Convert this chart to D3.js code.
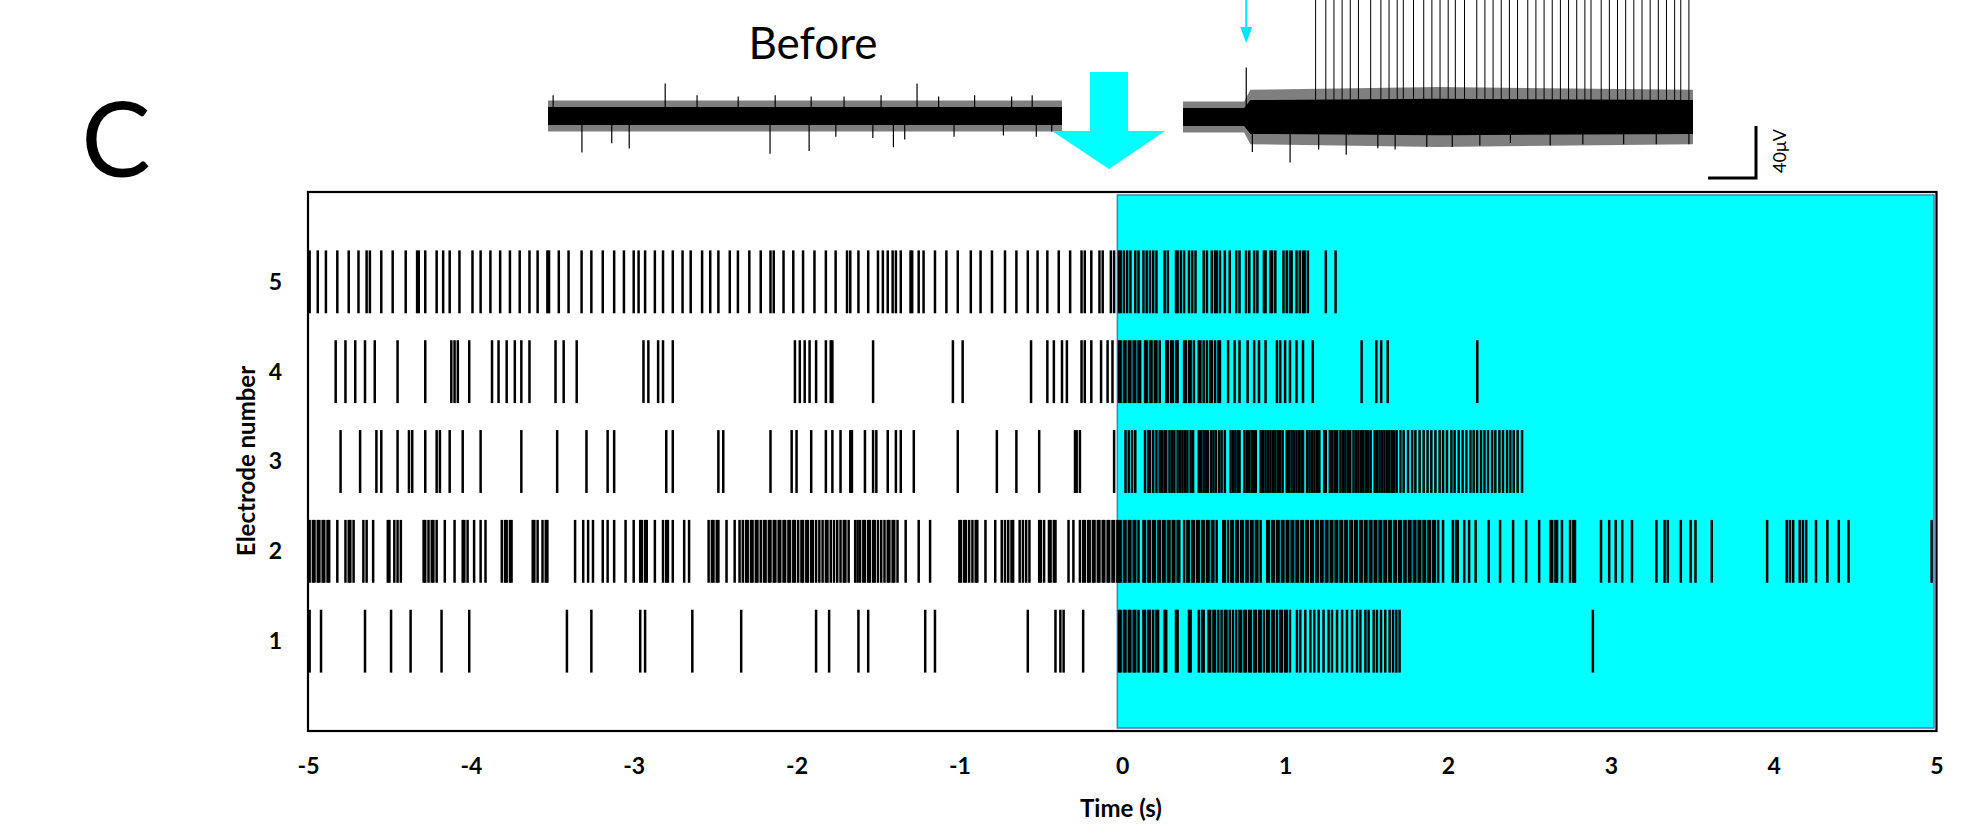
<!DOCTYPE html>
<html>
  <head>
    <meta charset="utf-8">
    <title>Electrode raster</title>
    <style>
      body {
        margin: 0;
        background-color: white;
      }
      svg {
        display: block;
        font-family: Lato, "Liberation Sans", sans-serif;
      }
    </style>
  </head>
  <body>
    <div id="chart"></div>

    <script src="https://d3js.org/d3.v7.min.js"></script>
    <script>
      var width = 1978;
      var height = 827;

      // raster data: spike times (s) per electrode, stimulation starts at 0
      var electrodes = [1, 2, 3, 4, 5];
      var xTicks = [-5, -4, -3, -2, -1, 0, 1, 2, 3, 4, 5];
      var stimWindow = [-0.03, 4.985];

      var spikesE5 = [-4.99, -4.94, -4.89, -4.82, -4.75, -4.69, -4.64, -4.62, -4.55, -4.48, -4.40, -4.33, -4.32, -4.28,
        -4.21, -4.17, -4.13, -4.07, -3.99, -3.94, -3.88, -3.82, -3.76, -3.70, -3.64, -3.59, -3.53, -3.52, -3.46, -3.40,
        -3.32, -3.26, -3.19, -3.12, -3.06, -3.00, -2.97, -2.93, -2.87, -2.82, -2.76, -2.70, -2.65, -2.58, -2.53, -2.48,
        -2.41, -2.36, -2.29, -2.22, -2.16, -2.14, -2.08, -2.02, -1.96, -1.89, -1.82, -1.76, -1.69, -1.67, -1.62, -1.56,
        -1.50, -1.47, -1.44, -1.41, -1.39, -1.36, -1.30, -1.29, -1.25, -1.22, -1.15, -1.08, -1.01, -0.93, -0.87, -0.80,
        -0.72, -0.65, -0.58, -0.52, -0.46, -0.39, -0.32, -0.25, -0.23, -0.19, -0.14, -0.12, -0.07, -0.05,
        -0.02, -0.01, 0.01, 0.03, 0.05, 0.08, 0.10, 0.13, 0.15, 0.17, 0.19, 0.21, 0.26, 0.28, 0.33, 0.34, 0.36, 0.38,
        0.41, 0.43, 0.45, 0.50, 0.52, 0.55, 0.57, 0.58, 0.60, 0.63, 0.66, 0.70, 0.72, 0.76, 0.78, 0.81, 0.83, 0.87,
        0.88, 0.91, 0.92, 0.94, 0.99, 1.01, 1.03, 1.04, 1.07, 1.09, 1.11, 1.12, 1.14, 1.25, 1.31];

      var spikesE4 = [-4.83, -4.77, -4.71, -4.65, -4.59, -4.45, -4.28, -4.12, -4.10, -4.08, -4.01, -3.87, -3.83, -3.78,
        -3.73, -3.69, -3.64, -3.48, -3.43, -3.35, -2.94, -2.91, -2.85, -2.82, -2.76, -2.01, -1.98, -1.95, -1.92, -1.88,
        -1.82, -1.79, -1.78, -1.53, -1.04, -0.98, -0.56, -0.46, -0.42, -0.37, -0.34, -0.25, -0.23, -0.19, -0.13, -0.09,
        -0.06, -0.02, -0.01, 0.01, 0.02, 0.04, 0.05, 0.07, 0.08, 0.10, 0.11, 0.14, 0.15, 0.17, 0.18, 0.20, 0.21, 0.23,
        0.27, 0.28, 0.30, 0.31, 0.33, 0.34, 0.38, 0.39, 0.41, 0.42, 0.44, 0.47, 0.48, 0.50, 0.52, 0.54, 0.55, 0.57,
        0.59, 0.60, 0.65, 0.69, 0.72, 0.77, 0.81, 0.84, 0.88, 0.95, 0.97, 1.00, 1.03, 1.07, 1.11, 1.17, 1.47, 1.56,
        1.59, 1.63, 2.18];

      var spikesE3 = [-4.80, -4.68, -4.58, -4.55, -4.45, -4.38, -4.36, -4.28, -4.21, -4.19, -4.13, -4.05, -3.94, -3.69,
        -3.47, -3.29, -3.16, -3.12, -2.80, -2.76, -2.48, -2.45, -2.16, -2.03, -2.00, -1.91, -1.82, -1.78, -1.73, -1.67,
        -1.66, -1.58, -1.53, -1.51, -1.44, -1.39, -1.36, -1.28, -1.01, -0.77, -0.65, -0.51, -0.29, -0.28, -0.26, -0.05,
        0.02, 0.04, 0.06, 0.08, 0.14, 0.16, 0.17, 0.19, 0.21, 0.23, 0.245, 0.26, 0.27, 0.29, 0.305, 0.32, 0.34, 0.355,
        0.37, 0.385, 0.40, 0.42, 0.435, 0.47, 0.485, 0.50, 0.515, 0.525, 0.545, 0.56, 0.575, 0.595, 0.61, 0.63, 0.665,
        0.68, 0.695, 0.71, 0.72, 0.75, 0.765, 0.78, 0.795, 0.81, 0.82, 0.85, 0.865, 0.88, 0.895, 0.91, 0.925, 0.94,
        0.955, 0.97, 0.985, 1.01, 1.025, 1.04, 1.055, 1.07, 1.085, 1.10, 1.11, 1.135, 1.15, 1.165, 1.18, 1.195, 1.21,
        1.24, 1.25, 1.275, 1.29, 1.305, 1.32, 1.34, 1.355, 1.37, 1.385, 1.40, 1.42, 1.435, 1.45, 1.465, 1.48, 1.495,
        1.51, 1.525, 1.55, 1.565, 1.58, 1.595, 1.61, 1.625, 1.64, 1.655, 1.67, 1.685, 1.708, 1.728, 1.755, 1.78, 1.80,
        1.826, 1.851, 1.875, 1.898, 1.923, 1.949, 1.97, 1.994, 2.021, 2.041, 2.066, 2.09, 2.113, 2.138, 2.158, 2.179,
        2.203, 2.224, 2.246, 2.271, 2.291, 2.316, 2.338, 2.363, 2.383, 2.404, 2.428, 2.455];

      var spikesE2 = [-4.99, -4.97, -4.96, -4.94, -4.93, -4.91, -4.90, -4.88, -4.87, -4.82, -4.77, -4.75, -4.74, -4.72,
        -4.66, -4.64, -4.60, -4.51, -4.50, -4.47, -4.45, -4.43, -4.29, -4.28, -4.26, -4.24, -4.23, -4.21, -4.16, -4.10,
        -4.05, -4.04, -4.02, -3.98, -3.94, -3.91, -3.81, -3.79, -3.78, -3.76, -3.75, -3.62, -3.61, -3.59, -3.56, -3.54,
        -3.53, -3.36, -3.31, -3.28, -3.25, -3.19, -3.16, -3.12, -3.05, -3.00, -2.96, -2.95, -2.93, -2.92, -2.87, -2.82,
        -2.80, -2.79, -2.76, -2.69, -2.66, -2.54, -2.52, -2.51, -2.49, -2.48, -2.43, -2.38, -2.35, -2.33, -2.31, -2.30,
        -2.28, -2.27, -2.25, -2.24, -2.22, -2.20, -2.19, -2.17, -2.16, -2.14, -2.13, -2.11, -2.10, -2.08, -2.07, -2.05,
        -2.04, -2.02, -2.01, -1.99, -1.97, -1.96, -1.94, -1.93, -1.91, -1.90, -1.88, -1.86, -1.84, -1.82, -1.81, -1.79,
        -1.77, -1.75, -1.73, -1.71, -1.70, -1.68, -1.64, -1.625, -1.61, -1.59, -1.58, -1.56, -1.55, -1.53, -1.52, -1.50,
        -1.48, -1.46, -1.44, -1.43, -1.41, -1.40, -1.38, -1.33, -1.25, -1.18, -1.00, -0.99, -0.97, -0.96, -0.94, -0.92,
        -0.90, -0.89, -0.84, -0.78, -0.74, -0.72, -0.70, -0.68, -0.67, -0.63, -0.61, -0.59, -0.57, -0.51, -0.50, -0.48,
        -0.45, -0.44, -0.42, -0.41, -0.33, -0.30, -0.26, -0.24, -0.23, -0.21, -0.20, -0.18, -0.17, -0.15, -0.14, -0.12,
        -0.11, -0.09, -0.08, -0.06, -0.05, -0.03,
        -0.02, -0.01, 0.01, 0.02, 0.04, 0.05, 0.07, 0.08, 0.10, 0.13, 0.14, 0.16, 0.17, 0.19, 0.20, 0.22, 0.23, 0.25,
        0.26, 0.28, 0.29, 0.31, 0.32, 0.34, 0.35, 0.38, 0.40, 0.41, 0.43, 0.44, 0.46, 0.47, 0.49, 0.50, 0.52, 0.53,
        0.55, 0.56, 0.58, 0.62, 0.63, 0.65, 0.67, 0.68, 0.70, 0.71, 0.73, 0.74, 0.76, 0.77, 0.79, 0.80, 0.82, 0.83,
        0.85, 0.89, 0.90, 0.92, 0.93, 0.95, 0.96, 0.98, 0.99, 1.01, 1.02, 1.04, 1.05, 1.07, 1.08, 1.10, 1.11, 1.13,
        1.14, 1.16, 1.17, 1.19, 1.20, 1.22, 1.23, 1.25, 1.26, 1.28, 1.29, 1.31, 1.32, 1.34, 1.35, 1.37, 1.38, 1.40,
        1.41, 1.43, 1.44, 1.46, 1.47, 1.49, 1.50, 1.52, 1.53, 1.55, 1.56, 1.58, 1.59, 1.61, 1.62, 1.64, 1.65, 1.67,
        1.68, 1.70, 1.71, 1.73, 1.74, 1.76, 1.77, 1.79, 1.80, 1.82, 1.83, 1.85, 1.86, 1.88, 1.89, 1.91, 1.92, 1.94,
        1.97, 2.03, 2.05, 2.06, 2.10, 2.13, 2.17, 2.25, 2.32, 2.40, 2.48, 2.56, 2.63, 2.64, 2.66, 2.67, 2.70, 2.75,
        2.77, 2.78, 2.94, 2.99, 3.03, 3.07, 3.13, 3.28, 3.33, 3.35, 3.43, 3.49, 3.52, 3.62, 3.96, 4.08, 4.10, 4.12,
        4.16, 4.18, 4.20, 4.26, 4.33, 4.40, 4.46, 4.97];

      var spikesE1 = [-4.99, -4.92, -4.65, -4.49, -4.37, -4.18, -4.01, -3.41, -3.26, -2.96, -2.93, -2.64, -2.34, -1.88,
        -1.80, -1.62, -1.56, -1.21, -1.15, -0.58, -0.41, -0.38, -0.36, -0.24,
        -0.02, -0.01, 0.01, 0.02, 0.04, 0.05, 0.07, 0.08, 0.10, 0.13, 0.14, 0.16, 0.17, 0.19, 0.21, 0.22, 0.26, 0.27,
        0.33, 0.34, 0.41, 0.42, 0.47, 0.49, 0.50, 0.53, 0.54, 0.56, 0.57, 0.59, 0.61, 0.63, 0.64, 0.66, 0.68, 0.70,
        0.72, 0.73, 0.75, 0.76, 0.78, 0.79, 0.81, 0.82, 0.84, 0.85, 0.87, 0.89, 0.90, 0.92, 0.93, 0.95, 0.97, 0.98,
        1.00, 1.01, 1.03, 1.073, 1.093, 1.124, 1.155, 1.179, 1.206, 1.236, 1.267, 1.288, 1.319, 1.35, 1.38, 1.411,
        1.442, 1.462, 1.493, 1.513, 1.544, 1.564, 1.589, 1.615, 1.642, 1.663, 1.683, 1.703, 2.89];

      var spikeTrains = [spikesE1, spikesE2, spikesE3, spikesE4, spikesE5];

      // example recordings above the raster (time in s, amplitude in µV)
      var beforeEnvT = [0, 5];
      var beforeCore = [7, 7];
      var beforeEdge = [12, 12];
      var beforeSpikeT = [0.05, 0.33, 0.62, 0.79, 1.14, 1.45, 1.85, 2.16, 2.21, 2.54, 2.56, 2.80, 2.88, 3.16, 3.24,
        3.36, 3.47, 3.59, 3.80, 3.95, 4.15, 4.43, 4.51, 4.71, 4.75, 4.90];
      var beforeSpikeAmp = [16, -28, -21, -25, 25, 16, 15, -29, 16, -27, 15, -16, 15, -17, 16,
        -24, -18, 25, 15, -16, 16, -15, 15, 16, -16, -12];

      var afterEnvT = [0, 0.6, 0.66, 2.5, 5];
      var afterCore = [7, 7, 13, 14, 13];
      var afterEdge = [12, 12, 21, 23, 21];
      var afterSpikeT = [0.62, 0.68, 1.05, 1.33, 1.60, 1.91, 2.08, 2.39, 2.64, 2.91, 3.21, 3.60, 3.92, 4.32, 4.64, 4.96];
      var afterSpikeAmp = [38, -27, -35, -25, -29, -24, -25, -23, -23, -22, -20, -22, -21, -21, -21, -21];
      var afterUnitT = [1.30, 1.40, 1.48, 1.56, 1.64, 1.72, 1.84, 1.94, 2.02, 2.10, 2.16, 2.26, 2.36, 2.44, 2.52,
        2.60, 2.67, 2.76, 2.88, 2.96, 3.04, 3.12, 3.20, 3.28, 3.38, 3.46, 3.54, 3.62, 3.70, 3.78, 3.86, 3.94, 4.00,
        4.10, 4.18, 4.26, 4.34, 4.42, 4.50, 4.58, 4.66, 4.74, 4.82, 4.88, 4.96];
      var afterUnitAmp = 130;
      var stimMarkT = 0.62;
      var scaleBarUV = 40;
      var scaleBarS = 0.47;

      var svg = d3.select("#chart").append("svg")
        .attr("width", width)
        .attr("height", height);

      var x = d3.scaleLinear().domain([-5, 5]).range([308, 1936.5]);
      var y = d3.scaleLinear().domain([0, 6]).range([731, 192]);

      // plot area
      svg.append("rect")
        .attr("x", x(-5)).attr("y", y(6))
        .attr("width", x(5) - x(-5)).attr("height", y(0) - y(6))
        .attr("fill", "white");

      svg.append("rect")
        .attr("x", x(stimWindow[0])).attr("y", y(6) + 3)
        .attr("width", x(stimWindow[1]) - x(stimWindow[0])).attr("height", y(0) - y(6) - 6)
        .attr("fill", "#00ffff")
        .attr("stroke", "#4b7fae")
        .attr("stroke-width", 1.5);

      var rows = svg.append("g").selectAll("g")
        .data(spikeTrains)
        .enter().append("g");

      rows.selectAll("line")
        .data(function(d, i) {
          return d.map(function(t) { return {t: t, e: electrodes[i]}; });
        })
        .enter().append("line")
        .attr("x1", function(d) { return x(d.t); })
        .attr("x2", function(d) { return x(d.t); })
        .attr("y1", function(d) { return y(d.e + 0.35); })
        .attr("y2", function(d) { return y(d.e - 0.35); })
        .attr("stroke", "black")
        .attr("stroke-width", 2.5);

      svg.append("rect")
        .attr("x", x(-5)).attr("y", y(6))
        .attr("width", x(5) - x(-5)).attr("height", y(0) - y(6))
        .attr("fill", "none")
        .attr("stroke", "black")
        .attr("stroke-width", 2.2);

      // axes
      var xAxis = svg.append("g")
        .attr("transform", "translate(0," + y(0) + ")")
        .call(d3.axisBottom(x).tickValues(xTicks).tickSize(0).tickPadding(27)
          .tickFormat(function(d) { return String(d); }));
      xAxis.select(".domain").remove();
      xAxis.selectAll("text")
        .attr("font-family", "Lato, sans-serif")
        .attr("font-weight", "bold")
        .attr("font-size", 23)
        .attr("fill", "black");

      var yAxis = svg.append("g")
        .attr("transform", "translate(" + x(-5) + ",0)")
        .call(d3.axisLeft(y).tickValues(electrodes).tickSize(0).tickPadding(26)
          .tickFormat(function(d) { return String(d); }));
      yAxis.select(".domain").remove();
      yAxis.selectAll("text")
        .attr("font-family", "Lato, sans-serif")
        .attr("font-weight", "bold")
        .attr("font-size", 23)
        .attr("fill", "black");

      svg.append("text")
        .attr("x", 1121).attr("y", 817)
        .attr("text-anchor", "middle")
        .attr("font-weight", "bold")
        .attr("font-size", 24)
        .text("Time (s)");

      svg.append("text")
        .attr("transform", "translate(255,461) rotate(-90)")
        .attr("text-anchor", "middle")
        .attr("font-weight", "bold")
        .attr("font-size", 24)
        .text("Electrode number");

      // panel letter and trace title
      svg.append("text")
        .attr("x", 116).attr("y", 177)
        .attr("text-anchor", "middle")
        .attr("font-size", 104)
        .text("C");

      svg.append("text")
        .attr("x", 813).attr("y", 59)
        .attr("text-anchor", "middle")
        .attr("font-size", 44)
        .text("Before");

      // recordings
      var amp = d3.scaleLinear().domain([-40, 40]).range([52, -52]);
      var beforeX = d3.scaleLinear().domain([0, 5]).range([548, 1062]);
      var afterX = d3.scaleLinear().domain([0, 5]).range([1183, 1693]);

      function drawTrace(g, tx, base, envT, core, edge, spT, spA) {
        var env = envT.map(function(t, i) { return {t: t, c: core[i], e: edge[i]}; });
        g.append("path")
          .datum(env)
          .attr("d", d3.area()
            .x(function(d) { return tx(d.t); })
            .y0(function(d) { return base + amp(-d.e); })
            .y1(function(d) { return base + amp(d.e); }))
          .attr("fill", "black")
          .attr("opacity", 0.5);
        g.append("path")
          .datum(env)
          .attr("d", d3.area()
            .x(function(d) { return tx(d.t); })
            .y0(function(d) { return base + amp(-d.c); })
            .y1(function(d) { return base + amp(d.c); }))
          .attr("fill", "black");
        g.selectAll("line.sp")
          .data(spT)
          .enter().append("line")
          .attr("class", "sp")
          .attr("x1", function(d) { return tx(d); })
          .attr("x2", function(d) { return tx(d); })
          .attr("y1", base)
          .attr("y2", function(d, i) { return base + amp(spA[i]); })
          .attr("stroke", "black")
          .attr("stroke-width", 1.2);
      }

      drawTrace(svg.append("g"), beforeX, 116, beforeEnvT, beforeCore, beforeEdge, beforeSpikeT, beforeSpikeAmp);
      var afterG = svg.append("g");
      drawTrace(afterG, afterX, 117, afterEnvT, afterCore, afterEdge, afterSpikeT, afterSpikeAmp);
      afterG.selectAll("line.unit")
        .data(afterUnitT)
        .enter().append("line")
        .attr("class", "unit")
        .attr("x1", function(d) { return afterX(d); })
        .attr("x2", function(d) { return afterX(d); })
        .attr("y1", 117)
        .attr("y2", 117 + amp(afterUnitAmp))
        .attr("stroke", "black")
        .attr("stroke-width", 1);

      // stimulation marker on the trace
      var sx = afterX(stimMarkT);
      svg.append("line")
        .attr("x1", sx).attr("x2", sx)
        .attr("y1", 0).attr("y2", 30)
        .attr("stroke", "#00e5ff")
        .attr("stroke-width", 2);
      svg.append("path")
        .attr("d", "M" + (sx - 6) + ",27L" + (sx + 6) + ",27L" + sx + ",43Z")
        .attr("fill", "#00e5ff");

      // big arrow between the traces
      svg.append("path")
        .attr("d", "M1090,72L1128,72L1128,131L1165,131L1109,169L1052,131L1090,131Z")
        .attr("fill", "#00ffff");

      // scale bar
      var barX = 1756, barY = 178;
      svg.append("path")
        .attr("d", "M" + (barX - (afterX(scaleBarS) - afterX(0))) + "," + barY +
          "L" + barX + "," + barY + "L" + barX + "," + (barY + amp(scaleBarUV)))
        .attr("fill", "none")
        .attr("stroke", "black")
        .attr("stroke-width", 3);
      svg.append("text")
        .attr("transform", "translate(1786,151) rotate(-90)")
        .attr("text-anchor", "middle")
        .attr("font-size", 18)
        .text("40μV");
    </script>
  </body>
</html>
